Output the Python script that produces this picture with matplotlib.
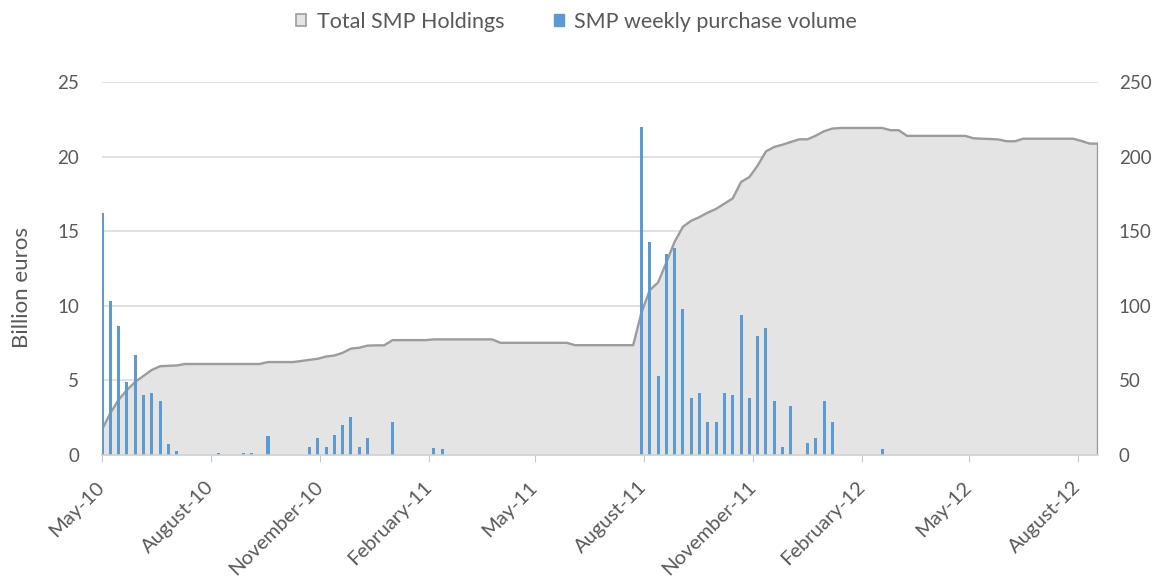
import numpy as np
import pandas as pd
import matplotlib
matplotlib.use('Agg')
import matplotlib.pyplot as plt
import matplotlib.dates as mdates
from matplotlib.patches import Patch

plt.rcParams['font.family'] = ['Lato', 'DejaVu Sans']

# Weekly observations, first week of the SMP (10 May 2010)
start_date = '2010-05-10'
n_weeks = 121

# Total SMP holdings (billion euros, right axis), one value per week
holdings = [17.0, 28.0, 37.0, 43.5, 49.0, 53.0, 57.0, 59.5, 59.8, 60.0,
            61.0, 61.0, 61.0, 61.0, 61.0, 61.0, 61.0, 61.0, 61.0, 61.0,
            62.3, 62.3, 62.3, 62.3, 63.0, 63.8, 64.5, 66.0, 66.7, 68.5,
            71.3, 71.9, 73.3, 73.5, 73.5, 77.0, 77.0, 77.0, 77.0, 77.0,
            77.5, 77.5, 77.5, 77.5, 77.5, 77.5, 77.5, 77.5, 75.2, 75.2,
            75.2, 75.2, 75.2, 75.2, 75.2, 75.2, 75.2, 73.6, 73.6, 73.6,
            73.6, 73.6, 73.6, 73.6, 73.6, 95.4, 110.5, 115.6, 129.0, 143.0,
            153.0, 157.0, 159.5, 162.5, 165.0, 168.5, 172.0, 183.0, 186.3, 194.0,
            203.5, 206.5, 208.0, 209.8, 211.6, 211.6, 214.0, 217.0, 218.8, 219.2,
            219.2, 219.2, 219.2, 219.2, 219.2, 217.7, 217.7, 213.9, 213.9, 213.9,
            213.9, 213.9, 213.9, 213.9, 213.9, 212.3, 212.0, 211.8, 211.5, 210.3,
            210.3, 212.0, 212.0, 212.0, 212.0, 212.0, 212.0, 212.0, 210.5, 208.7,
            208.7]

# Weekly purchase volume (billion euros, left axis): week number -> amount
purchase_week = [0, 1, 2, 3, 4, 5, 6, 7, 8, 9,
                 14, 17, 18, 20, 25, 26, 27, 28, 29, 30,
                 31, 32, 35, 40, 41,
                 65, 66, 67, 68, 69, 70, 71, 72, 73, 74,
                 75, 76, 77, 78, 79, 80, 81, 82, 83, 85,
                 86, 87, 88, 94]
purchase_bn = [16.2, 10.3, 8.65, 4.9, 6.7, 4.05, 4.16, 3.65, 0.73, 0.24,
               0.15, 0.15, 0.15, 1.3, 0.57, 1.13, 0.57, 1.31, 2.0, 2.55,
               0.57, 1.13, 2.19, 0.5, 0.4,
               22.0, 14.25, 5.28, 13.5, 13.9, 9.77, 3.82, 4.16, 2.19, 2.19,
               4.16, 4.0, 9.39, 3.82, 7.97, 8.49, 3.65, 0.57, 3.26, 0.8,
               1.13, 3.65, 2.19, 0.39]

dates = pd.date_range(start_date, periods=n_weeks, freq='7D')
bar_dates = dates[purchase_week]
tick_dates = [pd.Timestamp(start_date) + pd.DateOffset(months=3 * k) for k in range(10)]

grey_txt = '#595959'
fs = 13.5

fig = plt.figure(figsize=(11.6, 5.8), dpi=100)
ax = fig.add_axes([0.0879, 0.2155, 0.8586, 0.6431])
ax2 = ax.twinx()
ax.set_zorder(ax2.get_zorder() + 1)
ax.patch.set_visible(False)

# holdings area on the right axis
ax2.fill_between(dates, holdings, color='#E4E4E4', lw=0)
ax2.plot(dates, holdings, color='#9C9C9C', lw=1.7)
ax2.vlines(dates[-1], 0, holdings[-1], color='#9C9C9C', lw=1.7)

# weekly purchases on the left axis
ax.bar(bar_dates, purchase_bn, width=2.6, color='#5B9BD5')

ax.set_xlim(dates[0], dates[-1])
ax.set_ylim(0, 25)
ax2.set_ylim(0, 250)
ax.set_yticks(range(0, 26, 5))
ax2.set_yticks(range(0, 251, 50))

ax2.grid(axis='y', color='#D9D9D9', lw=1.1)
ax2.set_axisbelow(True)

for a in (ax, ax2):
    for s in ('top', 'left', 'right'):
        a.spines[s].set_visible(False)
ax2.spines['bottom'].set_visible(False)
ax.spines['bottom'].set_color('#D0D0D0')
ax.spines['bottom'].set_linewidth(1.1)

ax.set_xticks(tick_dates)
ax.xaxis.set_major_formatter(mdates.DateFormatter('%B-%y'))
ax.tick_params(axis='x', length=5, color='#C8C8C8', pad=16,
               labelsize=14.5, labelcolor=grey_txt)
for lbl in ax.get_xticklabels():
    lbl.set_rotation(45)
    lbl.set_ha('right')
    lbl.set_va('center')
    lbl.set_rotation_mode('anchor')

ax.tick_params(axis='y', length=0, pad=16.5, labelsize=fs, labelcolor=grey_txt)
ax2.tick_params(axis='y', length=0, pad=15, labelsize=fs, labelcolor=grey_txt)

ax.set_ylabel('Billion euros', fontsize=16, color=grey_txt)
ax.yaxis.set_label_coords(-0.07, 0.449)

handles = [Patch(facecolor='#E4E4E4', edgecolor='#9C9C9C', lw=1.2),
           Patch(facecolor='#5B9BD5', edgecolor='#5B9BD5')]
fig.legend(handles, ['Total SMP Holdings', 'SMP weekly purchase volume'],
           loc='center', bbox_to_anchor=(0.497, 0.962), ncol=2, frameon=False,
           fontsize=15.5, labelcolor=grey_txt, handlelength=0.47, handleheight=0.47,
           handletextpad=0.5, columnspacing=2.3)

fig.savefig('out.png', dpi=100)
